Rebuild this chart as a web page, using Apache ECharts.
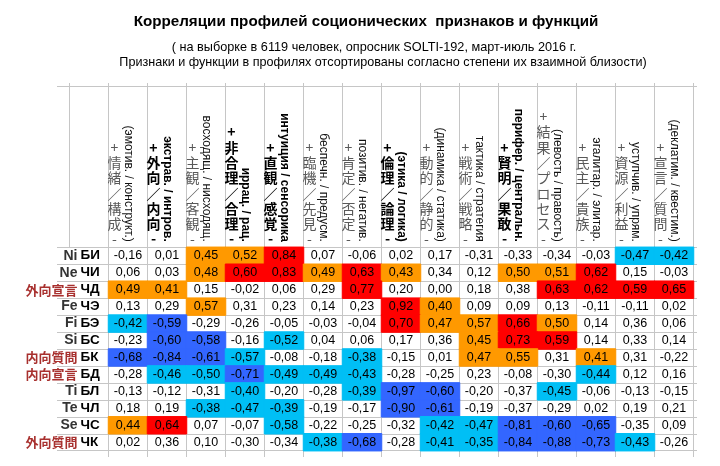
<!DOCTYPE html>
<html><head><meta charset="utf-8">
<script src="https://cdn.jsdelivr.net/npm/echarts@6/dist/echarts.min.js"></script>
<style>html,body{margin:0;padding:0;background:#fff}#c{width:720px;height:466px}</style>
</head><body><div id="c"></div>
<script>
const titleText = 'Корреляции профилей соционических  признаков и функций';
const subtitleLine1 = '( на выборке в 6119 человек, опросник SOLTI-192, март-июль 2016 г.';
const subtitleLine2 = 'Признаки и функции в профилях отсортированы согласно степени их взаимной близости)';

const columnsCJK = ['情緒/構成','外向/内向','主観/客観','非合理/合理','直観/感覚','臨機/先見','肯定/否定','倫理/論理','動的/静的','戦術/戦略','賢明/果敢','結果/プロセス','民主/貴族','資源/利益','宣言/質問'];
const columnsRu = ['(эмотив. / конструкт.)','экстрав. / интров.','восходящ. / нисходящ.','иррац. / рац.','интуиция / сенсорика','беспечн. / предусм.','позитив. / негатив.','(этика / логика)','(динамика / статика)','тактика / стратегия','перифер. / центральн.','(левость / правость)','эгалитар. / элитар.','уступчив. / упрям.','(деклатим. / квестим.)'];
const boldColumns = [1, 3, 4, 7, 10];

const rowCodes = ['Ni','Ne','外向宣言','Fe','Fi','Si','内向質問','内向宣言','Ti','Te','Se','外向質問'];
const rowNames = ['БИ','ЧИ','ЧД','ЧЭ','БЭ','БС','БК','БД','БЛ','ЧЛ','ЧС','ЧК'];

const values = [
  [-0.16, 0.01, 0.45, 0.52, 0.84, 0.07, -0.06, 0.02, 0.17, -0.31, -0.33, -0.34, -0.03, -0.47, -0.42],
  [0.06, 0.03, 0.48, 0.60, 0.83, 0.49, 0.63, 0.43, 0.34, 0.12, 0.50, 0.51, 0.62, 0.15, -0.03],
  [0.49, 0.41, 0.15, -0.02, 0.06, 0.29, 0.77, 0.20, 0.00, 0.18, 0.38, 0.63, 0.62, 0.59, 0.65],
  [0.13, 0.29, 0.57, 0.31, 0.23, 0.14, 0.23, 0.92, 0.40, 0.09, 0.09, 0.13, -0.11, -0.11, 0.02],
  [-0.42, -0.59, -0.29, -0.26, -0.05, -0.03, -0.04, 0.70, 0.47, 0.57, 0.66, 0.50, 0.14, 0.36, 0.06],
  [-0.23, -0.60, -0.58, -0.16, -0.52, 0.04, 0.06, 0.17, 0.36, 0.45, 0.73, 0.59, 0.14, 0.33, 0.14],
  [-0.68, -0.84, -0.61, -0.57, -0.08, -0.18, -0.38, -0.15, 0.01, 0.47, 0.55, 0.31, 0.41, 0.31, -0.22],
  [-0.28, -0.46, -0.50, -0.71, -0.49, -0.49, -0.43, -0.28, -0.25, 0.23, -0.08, -0.30, -0.44, 0.12, 0.16],
  [-0.13, -0.12, -0.31, -0.40, -0.20, -0.28, -0.39, -0.97, -0.60, -0.20, -0.37, -0.45, -0.06, -0.13, -0.15],
  [0.18, 0.19, -0.38, -0.47, -0.39, -0.19, -0.17, -0.90, -0.61, -0.19, -0.37, -0.29, 0.02, 0.19, 0.21],
  [0.44, 0.64, 0.07, -0.07, -0.58, -0.22, -0.25, -0.32, -0.42, -0.47, -0.81, -0.60, -0.65, -0.35, 0.09],
  [0.02, 0.36, 0.10, -0.30, -0.34, -0.38, -0.68, -0.28, -0.41, -0.35, -0.84, -0.88, -0.73, -0.43, -0.26]
];
// colour class of each cell: w white, o orange, r red, c light blue, b dark blue
const bands = [
  'wwoorwwwwwwwwcc',
  'wworrorowwoorww',
  'oowwwwrwwwwrrrr',
  'wwowwwwrowwwwww',
  'cbwwwwwroorowww',
  'wbbwcwwwworrwww',
  'bbbcwwcwwoowoww',
  'wccbcccwwwwwcww',
  'wwwcwwcbbwwcwww',
  'wwcccwwbbwwwwww',
  'orwwcwwwccbbbww',
  'wwwwwcbwccbbbcw'
];
const bandKeys = ['w','o','r','c','b'];
const bandColors = ['rgba(255,255,255,0)', '#FF9900', '#FF0000', '#00BFF5', '#3366FF'];

const GRID_COLOR = '#C6C6C6';
const FONT = '"Liberation Sans", Arial, sans-serif';
const CJK = '"Noto Sans CJK JP", sans-serif';

const data = [];
values.forEach((row, r) => {
  row.forEach((v, c) => {
    const bi = bandKeys.indexOf(bands[r][c]);
    data.push({
      value: [c, r, v, bi],
      itemStyle: bi === 0 ? { borderWidth: 0 } : { borderColor: bandColors[bi], borderWidth: 1 }
    });
  });
});

const chart = echarts.init(document.getElementById('c'), null, { renderer: 'canvas' });

const tableLeft = 108.5, tableTop = 247.3, tableWidth = 585, tableHeight = 203.4;
const hidden = { show: false, axisLine: { show: false }, axisTick: { show: false }, axisLabel: { show: false }, splitLine: { show: false } };

chart.setOption({
  animation: false,
  backgroundColor: '#fff',
  title: [
    { text: titleText, left: 366, top: 12, textAlign: 'center', padding: 0,
      textStyle: { fontFamily: FONT, fontSize: 15.2, fontWeight: 'bold', color: '#000', lineHeight: 20 } },
    { text: subtitleLine1, left: 374, top: 39, textAlign: 'center', padding: 0,
      textStyle: { fontFamily: FONT, fontSize: 12.7, fontWeight: 'normal', color: '#000', lineHeight: 16 } },
    { text: subtitleLine2, left: 383, top: 55, textAlign: 'center', padding: 0,
      textStyle: { fontFamily: FONT, fontSize: 12.6, fontWeight: 'normal', color: '#000', lineHeight: 16 } }
  ],
  grid: [
    { left: tableLeft, top: tableTop, width: tableWidth, height: tableHeight, containLabel: false, outerBoundsMode: 'none' },
    { left: tableLeft, top: 83, width: tableWidth, height: 374, containLabel: false, outerBoundsMode: 'none' },
    { left: 57, top: tableTop, width: 640, height: tableHeight, containLabel: false, outerBoundsMode: 'none' }
  ],
  xAxis: [
    {
      gridIndex: 0, type: 'category', position: 'top', data: columnsCJK,
      axisLine: { show: false }, axisTick: { show: false }, splitLine: { show: false },
      axisLabel: {
        interval: 0, margin: 0.5, align: 'center', padding: [0, 27, 0, 0],
        formatter: (v, i) => {
          const lines = ['+'].concat(Array.from(v).map(ch => ch === '/' ? '／' : ch), ['-']);
          const key = boldColumns.indexOf(i) >= 0 ? 'b' : 'n';
          return lines.map(l => '{' + key + '|' + l + '}').join('\n');
        },
        rich: {
          n: { fontFamily: CJK, fontSize: 14, lineHeight: 15.3, color: '#595959', align: 'center' },
          b: { fontFamily: CJK, fontSize: 14, lineHeight: 15.3, color: '#000', fontWeight: 'bold', align: 'center' }
        }
      }
    },
    {
      gridIndex: 0, type: 'category', position: 'top', data: columnsRu,
      axisLine: { show: false }, axisTick: { show: false }, splitLine: { show: false },
      axisLabel: {
        interval: 0, margin: 5.5, rotate: 90,
        formatter: (v, i) => (boldColumns.indexOf(i) >= 0 ? '{b|' : '{n|') + v + '}',
        rich: {
          n: { fontFamily: FONT, fontSize: 12, color: '#111' },
          b: { fontFamily: FONT, fontSize: 12, color: '#000', fontWeight: 'bold' }
        }
      }
    },
    {
      gridIndex: 1, type: 'category', position: 'top', data: columnsCJK,
      axisLine: { show: false }, axisTick: { show: false }, axisLabel: { show: false },
      splitLine: { show: true, interval: 0, lineStyle: { color: GRID_COLOR, width: 1 } }
    },
    Object.assign({ gridIndex: 2, type: 'value', min: 0, max: 1 }, hidden)
  ],
  yAxis: [
    {
      gridIndex: 0, type: 'category', position: 'left', inverse: true, data: rowCodes,
      axisLine: { show: false }, axisTick: { show: false }, splitLine: { show: false },
      axisLabel: {
        interval: 0, align: 'right', margin: 31,
        formatter: v => (/[A-Za-z]/.test(v) ? '{c|' : '{r|') + v + '}',
        rich: {
          c: { fontFamily: FONT, fontSize: 14, fontWeight: 'bold', color: '#333' },
          r: { fontFamily: CJK, fontSize: 13, fontWeight: 'bold', color: '#A8302E' }
        }
      }
    },
    {
      gridIndex: 0, type: 'category', position: 'left', inverse: true, data: rowNames,
      axisLine: { show: false }, axisTick: { show: false }, splitLine: { show: false },
      axisLabel: {
        interval: 0, align: 'left', margin: 28,
        fontFamily: FONT, fontSize: 13.5, fontWeight: 'bold', color: '#000'
      }
    },
    Object.assign({ gridIndex: 1, type: 'value', min: 0, max: 1 }, hidden),
    {
      gridIndex: 2, type: 'category', position: 'left', inverse: true, data: rowNames,
      axisLine: { show: false }, axisTick: { show: false }, axisLabel: { show: false },
      splitLine: { show: true, interval: 0, lineStyle: { color: GRID_COLOR, width: 1 } }
    }
  ],
  visualMap: [{
    type: 'piecewise', show: false, seriesIndex: 0, dimension: 3,
    pieces: bandColors.map((col, i) => ({ value: i, color: col }))
  }],
  graphic: [
    { type: 'line', z: 1, shape: { x1: 57, y1: 86.5, x2: 697, y2: 86.5 }, style: { stroke: GRID_COLOR, lineWidth: 1 } },
    { type: 'line', z: 1, shape: { x1: 69.5, y1: 83, x2: 69.5, y2: tableTop }, style: { stroke: GRID_COLOR, lineWidth: 1 } }
  ],
  series: [{
    type: 'heatmap',
    xAxisIndex: 0, yAxisIndex: 0,
    data: data,
    emphasis: { disabled: true },
    label: {
      show: true,
      fontFamily: FONT, fontSize: 12.5, color: '#000',
      formatter: p => p.value[2].toFixed(2).replace('.', ',')
    }
  }]
});
</script></body></html>
